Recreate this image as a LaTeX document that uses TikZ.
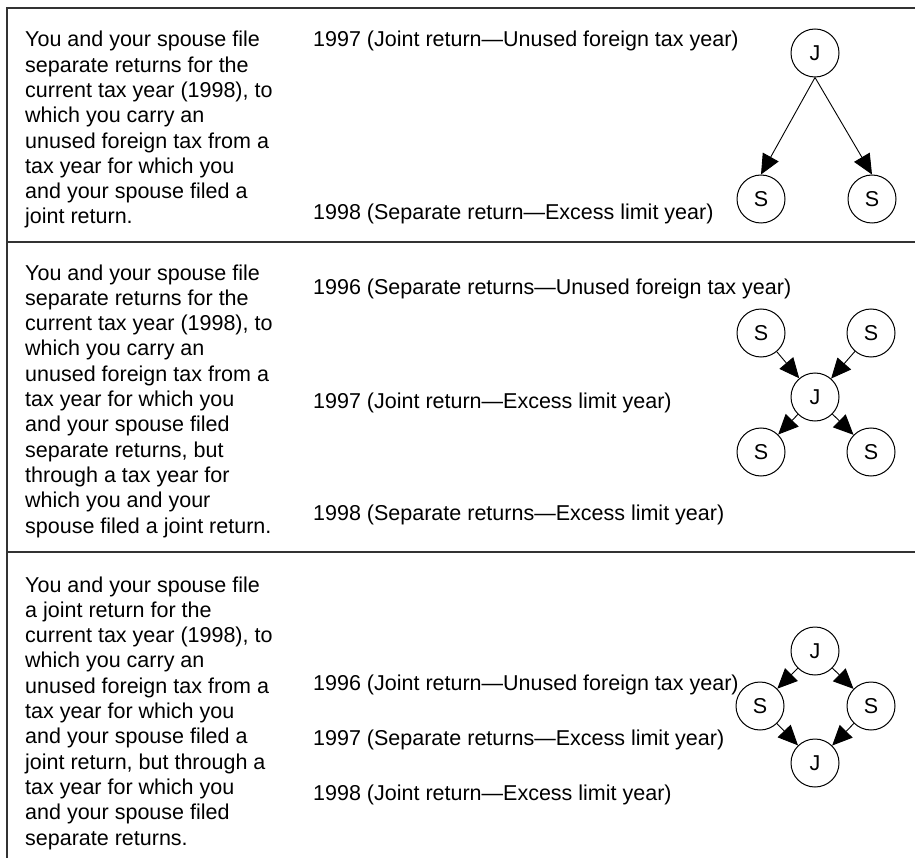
\documentclass[tikz,border=0pt]{standalone}
\usepackage{fontspec}
\setmainfont{Liberation Sans}
\usetikzlibrary{arrows.meta,positioning}
\def\txtfont{\fontsize{21.5}{25.3}\selectfont}
\tikzset{
  desc/.style={anchor=base west,align=left,inner sep=0pt,font=\txtfont},
  yr/.style={anchor=base west,inner sep=0pt,font=\txtfont},
  ret/.style={draw,circle,minimum size=48pt,inner sep=0pt,line width=1pt,font=\txtfont},
  flow/.style={-{Triangle[length=20pt,width=18pt]},line width=0.9pt},
  rule/.style={line width=1.5pt,black!80}
}
\begin{document}
\begin{tikzpicture}[x=1pt,y=-1pt]
\useasboundingbox (0,0) rectangle (915,858);
% frame
\draw[rule] (915,8) -- (7,8) -- (7,858);
\draw[rule] (7,242) -- (915,242);
\draw[rule] (7,552) -- (915,552);

% row one (base = last line)
\node[desc] (d1) at (25,224) {You and your spouse file\\separate returns for the\\current tax year (1998), to\\which you carry an\\unused foreign tax from a\\tax year for which you\\and your spouse filed a\\joint return.};
\node[yr] (y1a) at (313,47) {1997 (Joint return—Unused foreign tax year)};
\node[yr] (y1b) at (313,220) {1998 (Separate return—Excess limit year)};
\node[ret] (jA) at (815,53) {J};
\node[ret] (sA) at (761,199) {S};
\node[ret] (sB) at (872,199) {S};
\draw[flow] (jA.south) -- (sA.north);
\draw[flow] (jA.south) -- (sB.north);

% row two
\node[desc] (d2) at (25,533) {You and your spouse file\\separate returns for the\\current tax year (1998), to\\which you carry an\\unused foreign tax from a\\tax year for which you\\and your spouse filed\\separate returns, but\\through a tax year for\\which you and your\\spouse filed a joint return.};
\node[yr] (y2a) at (313,295) {1996 (Separate returns—Unused foreign tax year)};
\node[yr] (y2b) at (313,408) {1997 (Joint return—Excess limit year)};
\node[yr] (y2c) at (313,520) {1998 (Separate returns—Excess limit year)};
\node[ret] (jB) at (815,397) {J};
\node[ret] (sC) at (761,333) {S};
\node[ret] (sD) at (871,333) {S};
\node[ret] (sE) at (761,452) {S};
\node[ret] (sF) at (871,452) {S};
\draw[flow] (sC) -- (jB);
\draw[flow] (sD) -- (jB);
\draw[flow] (jB) -- (sE);
\draw[flow] (jB) -- (sF);

% row three
\node[desc] (d3) at (25,845) {You and your spouse file\\a joint return for the\\current tax year (1998), to\\which you carry an\\unused foreign tax from a\\tax year for which you\\and your spouse filed a\\joint return, but through a\\tax year for which you\\and your spouse filed\\separate returns.};
\node[yr] (y3a) at (313,690) {1996 (Joint return—Unused foreign tax year)};
\node[yr] (y3b) at (313,745) {1997 (Separate returns—Excess limit year)};
\node[yr] (y3c) at (313,800) {1998 (Joint return—Excess limit year)};
\node[ret] (jC) at (815,651) {J};
\node[ret] (sG) at (760,706) {S};
\node[ret] (sH) at (871,706) {S};
\node[ret] (jD) at (815,763) {J};
\draw[flow] (jC) -- (sG);
\draw[flow] (jC) -- (sH);
\draw[flow] (sG) -- (jD);
\draw[flow] (sH) -- (jD);
\end{tikzpicture}
\end{document}
